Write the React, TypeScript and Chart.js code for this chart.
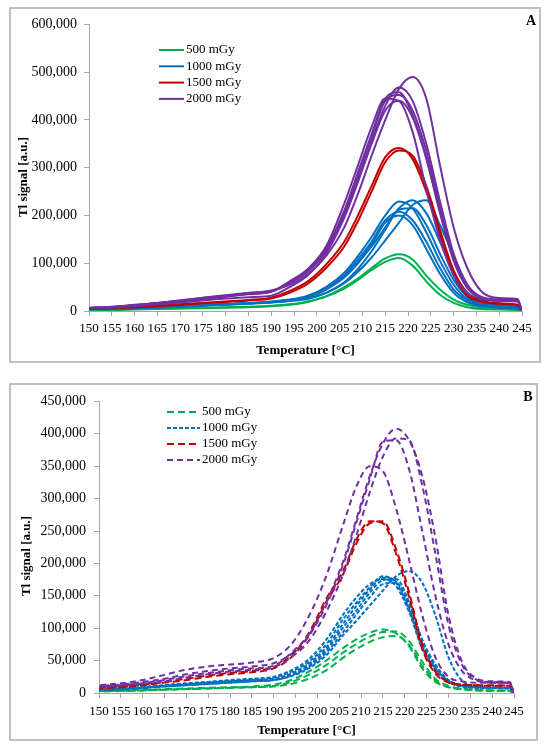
import { useEffect, useRef } from 'react';
import { Chart, registerables } from 'chart.js';

Chart.register(...registerables);
Chart.defaults.font.family = '"Liberation Serif", "Times New Roman", serif';
Chart.defaults.color = '#000';

// temperatures (°C) shared by all glow curves
const temps = [150, 155, 160, 165, 170, 175, 180, 185, 190, 194, 198, 202, 206, 209, 212, 215, 218, 221, 224, 227, 230, 233, 236, 240, 244, 245];

const doseLabels = ['500 mGy', '1000 mGy', '1500 mGy', '2000 mGy'];
const doseColors = ['#00b050', '#0070c0', '#c00000', '#7030a0'];

// panel A, TL signal in thousands of a.u.
const aGreen = [
  [2, 3, 4, 5, 6, 7, 8, 9, 11, 14, 20, 31, 50, 68, 90, 110, 119, 108, 74, 45, 24, 13, 7, 4, 3, 0],
  [2, 2, 3, 4, 5, 6, 7, 8, 10, 13, 19, 30, 47, 65, 86, 103, 111, 95, 62, 34, 17, 8, 4, 3, 2, 0],
];
const aBlue = [
  [4, 5, 6, 8, 10, 12, 14, 16, 18, 21, 27, 38, 58, 82, 112, 148, 185, 222, 232, 180, 115, 55, 25, 12, 8, 0],
  [4, 5, 6, 8, 10, 12, 14, 16, 19, 23, 30, 45, 70, 100, 135, 175, 215, 232, 205, 145, 80, 38, 18, 10, 6, 0],
  [4, 5, 7, 8, 10, 12, 14, 17, 20, 24, 32, 50, 80, 115, 155, 200, 229, 215, 165, 105, 55, 25, 13, 8, 5, 0],
  [4, 5, 6, 8, 10, 12, 14, 16, 19, 23, 30, 47, 75, 108, 145, 190, 208, 190, 145, 90, 45, 22, 12, 8, 5, 0],
  [4, 5, 6, 8, 10, 12, 14, 16, 19, 23, 30, 45, 72, 102, 140, 185, 200, 180, 130, 78, 38, 18, 10, 7, 4, 0],
  [4, 5, 6, 7, 9, 11, 13, 15, 18, 21, 25, 38, 60, 88, 125, 170, 212, 215, 180, 120, 65, 30, 15, 9, 6, 0],
];
const aRed = [
  [5, 6, 8, 11, 14, 17, 20, 23, 28, 42, 62, 97, 145, 200, 262, 322, 341, 318, 250, 160, 75, 32, 20, 15, 12, 0],
  [5, 6, 8, 10, 13, 16, 19, 22, 26, 38, 57, 90, 135, 188, 250, 312, 336, 325, 262, 170, 85, 38, 22, 16, 13, 0],
];
const aPurple = [
  [7, 9, 13, 17, 22, 28, 33, 38, 43, 55, 77, 115, 175, 245, 325, 400, 465, 490, 445, 305, 175, 90, 42, 27, 25, 0],
  [6, 8, 12, 17, 22, 27, 32, 37, 42, 58, 82, 125, 200, 275, 355, 430, 468, 440, 350, 230, 120, 55, 30, 24, 22, 0],
  [6, 8, 12, 16, 21, 26, 31, 36, 41, 60, 85, 130, 210, 290, 370, 445, 458, 410, 320, 205, 105, 48, 27, 22, 21, 0],
  [6, 8, 11, 15, 20, 25, 30, 35, 40, 62, 88, 135, 225, 305, 385, 445, 440, 375, 255, 150, 75, 38, 25, 21, 20, 0],
  [6, 7, 10, 14, 18, 22, 26, 29, 32, 50, 75, 120, 195, 270, 350, 420, 440, 405, 320, 210, 110, 50, 28, 22, 21, 0],
  [6, 8, 12, 16, 21, 26, 31, 36, 41, 58, 84, 128, 205, 285, 365, 440, 452, 420, 335, 220, 115, 52, 28, 23, 22, 0],
];

// panel B
const bGreen = [
  [3, 4, 5, 6, 7, 8, 9, 10, 13, 20, 33, 50, 70, 83, 93, 98, 92, 72, 38, 17, 9, 6, 5, 4, 4, 0],
  [3, 3, 4, 5, 6, 7, 8, 9, 11, 17, 28, 43, 63, 76, 87, 94, 95, 80, 48, 22, 11, 7, 5, 4, 3, 0],
  [2, 3, 4, 5, 6, 7, 8, 9, 10, 14, 22, 35, 55, 68, 79, 86, 88, 74, 42, 19, 9, 6, 4, 3, 3, 0],
];
const bBlue = [
  [5, 7, 9, 12, 14, 17, 19, 21, 24, 33, 48, 75, 115, 140, 163, 180, 170, 128, 70, 38, 18, 11, 9, 8, 8, 0],
  [5, 6, 8, 11, 13, 16, 18, 20, 22, 30, 45, 70, 108, 135, 160, 178, 172, 132, 75, 40, 19, 11, 9, 8, 7, 0],
  [5, 7, 9, 12, 15, 17, 20, 22, 25, 35, 52, 82, 122, 148, 168, 176, 165, 125, 68, 35, 17, 10, 8, 8, 7, 0],
  [4, 6, 8, 10, 12, 14, 16, 18, 20, 27, 40, 62, 95, 122, 148, 168, 170, 138, 82, 44, 20, 12, 9, 8, 7, 0],
  [4, 6, 8, 10, 12, 14, 16, 18, 20, 26, 38, 58, 90, 112, 135, 158, 180, 188, 170, 120, 55, 20, 11, 9, 8, 0],
  [5, 6, 8, 11, 13, 15, 17, 19, 21, 28, 42, 66, 102, 128, 155, 174, 176, 140, 80, 42, 19, 11, 9, 8, 7, 0],
];
const bRed = [
  [8, 10, 13, 17, 22, 27, 31, 34, 40, 58, 92, 145, 190, 238, 265, 262, 215, 148, 68, 30, 16, 13, 12, 12, 11, 0],
  [7, 9, 12, 16, 20, 25, 29, 32, 38, 55, 88, 140, 185, 232, 262, 265, 222, 155, 75, 33, 17, 13, 12, 11, 11, 0],
];
const bPurple = [
  [10, 12, 15, 20, 26, 31, 35, 38, 42, 62, 90, 140, 205, 270, 335, 385, 408, 390, 335, 240, 120, 50, 24, 18, 17, 0],
  [9, 11, 14, 18, 24, 29, 33, 36, 40, 55, 80, 125, 185, 245, 310, 365, 393, 390, 320, 215, 105, 45, 22, 17, 16, 0],
  [11, 13, 17, 22, 29, 34, 38, 41, 46, 60, 88, 135, 200, 265, 330, 388, 390, 345, 250, 150, 75, 35, 20, 16, 15, 0],
  [12, 15, 20, 28, 36, 41, 44, 47, 54, 75, 118, 180, 262, 320, 350, 342, 285, 205, 120, 55, 25, 18, 16, 16, 15, 0],
];

const axisGrey = '#a6a6a6';

interface PanelProps {
  letter: string;
  groups: number[][][];
  dashes: number[][];
  yMax: number;
  yStep: number;
  width: number;
  height: number;
  plot: { left: number; right: number; top: number; bottom: number };
  legend: { x: number; y: number; gap: number; len: number };
  yTitle: { x: number; y: number };
  letterPos: { x: number; y: number };
  xLabelPad: number;
  yLabelPad: number;
  xTitlePad: number;
}

const Panel: React.FC<PanelProps> = (p) => {
  const canvasRef = useRef<HTMLCanvasElement>(null);

  useEffect(() => {
    const canvas = canvasRef.current;
    if (!canvas) return;

    const datasets: any[] = [];
    [3, 2, 1, 0].forEach((g) => {
      p.groups[g].forEach((curve, j) => {
        datasets.push({
          label: doseLabels[g],
          data: curve.map((v, i) => ({ x: temps[i], y: v })),
          borderColor: doseColors[g],
          borderWidth: 2,
          borderDash: p.dashes[g],
          borderDashOffset: j * 3,
          pointRadius: 0,
          fill: false,
          cubicInterpolationMode: 'monotone',
        });
      });
    });

    const overlay = {
      id: 'overlay',
      afterDraw(chart: Chart) {
        const ctx = chart.ctx;
        ctx.save();
        ctx.fillStyle = '#000';
        ctx.textBaseline = 'middle';
        ctx.font = '13px "Liberation Serif"';
        doseLabels.forEach((label, i) => {
          const y = p.legend.y + i * p.legend.gap;
          ctx.strokeStyle = doseColors[i];
          ctx.lineWidth = 2;
          ctx.setLineDash(p.dashes[i]);
          ctx.beginPath();
          ctx.moveTo(p.legend.x, y);
          ctx.lineTo(p.legend.x + p.legend.len, y);
          ctx.stroke();
          ctx.setLineDash([]);
          ctx.textAlign = 'left';
          ctx.fillText(label, p.legend.x + p.legend.len + 2, y);
        });
        ctx.font = 'bold 14px "Liberation Serif"';
        ctx.textAlign = 'center';
        ctx.fillText(p.letter, p.letterPos.x, p.letterPos.y);
        ctx.translate(p.yTitle.x, p.yTitle.y);
        ctx.rotate(-Math.PI / 2);
        ctx.font = 'bold 13px "Liberation Serif"';
        ctx.fillText('Tl signal [a.u.]', 0, 0);
        ctx.restore();
      },
    };

    const chart = new Chart(canvas, {
      type: 'line',
      data: { datasets },
      options: {
        animation: false,
        responsive: true,
        maintainAspectRatio: false,
        layout: { padding: { left: 0, top: p.plot.top, right: p.width - p.plot.right, bottom: 0 } },
        plugins: { legend: { display: false }, tooltip: { enabled: false } },
        scales: {
          x: {
            type: 'linear',
            min: 150,
            max: 245,
            border: { color: axisGrey, width: 1 },
            grid: { drawOnChartArea: false, drawTicks: true, tickLength: 5, color: axisGrey },
            ticks: { stepSize: 5, autoSkip: false, maxRotation: 0, minRotation: 0, padding: p.xLabelPad, color: '#000', font: { size: 13 } },
            title: {
              display: true,
              text: 'Temperature [°C]',
              color: '#000',
              font: { size: 13, weight: 'bold' },
              padding: { top: 0, bottom: p.xTitlePad },
            },
            afterFit: (s: any) => {
              s.height = p.height - p.plot.bottom;
            },
          },
          y: {
            min: 0,
            max: p.yMax,
            border: { color: axisGrey, width: 1 },
            grid: { drawOnChartArea: false, drawTicks: true, tickLength: 5, color: axisGrey },
            ticks: {
              stepSize: p.yStep,
              padding: p.yLabelPad,
              color: '#000',
              font: { size: 14 },
              callback: (v: any) => (v === 0 ? '0' : `${v},000`),
            },
            afterFit: (s: any) => {
              s.width = p.plot.left;
            },
          },
        },
      } as any,
      plugins: [overlay],
    });

    return () => chart.destroy();
    // eslint-disable-next-line react-hooks/exhaustive-deps
  }, []);

  return (
    <div style={{ position: 'relative', width: p.width, height: p.height }}>
      <canvas ref={canvasRef}></canvas>
    </div>
  );
};

const boxStyle = (left: number, top: number, w: number, h: number): React.CSSProperties => ({
  position: 'absolute',
  left,
  top,
  width: w,
  height: h,
  boxSizing: 'border-box',
  border: '2px solid #c0c0c0',
  background: '#fff',
});

export default function App() {
  return (
    <div style={{ position: 'absolute', left: 0, top: 0, width: 550, height: 750, background: '#fff' }}>
      <div style={boxStyle(9, 7, 532, 356)}>
        <Panel
          letter="A"
          groups={[aGreen, aBlue, aRed, aPurple]}
          dashes={[[], [], [], []]}
          yMax={600}
          yStep={100}
          width={528}
          height={352}
          plot={{ left: 78, right: 511, top: 12, bottom: 302 }}
          legend={{ x: 148, y: 41, gap: 16.3, len: 25 }}
          yTitle={{ x: 13, y: 168 }}
          letterPos={{ x: 520, y: 12 }}
          xLabelPad={5}
          yLabelPad={7}
          xTitlePad={3}
        />
      </div>
      <div style={boxStyle(9, 383, 529, 358)}>
        <Panel
          letter="B"
          groups={[bGreen, bBlue, bRed, bPurple]}
          dashes={[[7, 4], [4, 2], [7, 4], [6, 4]]}
          yMax={450}
          yStep={50}
          width={525}
          height={354}
          plot={{ left: 88, right: 503, top: 10, bottom: 308 }}
          legend={{ x: 156, y: 27, gap: 16, len: 33 }}
          yTitle={{ x: 16, y: 171 }}
          letterPos={{ x: 517, y: 12 }}
          xLabelPad={6}
          yLabelPad={8}
          xTitlePad={1}
        />
      </div>
    </div>
  );
}
